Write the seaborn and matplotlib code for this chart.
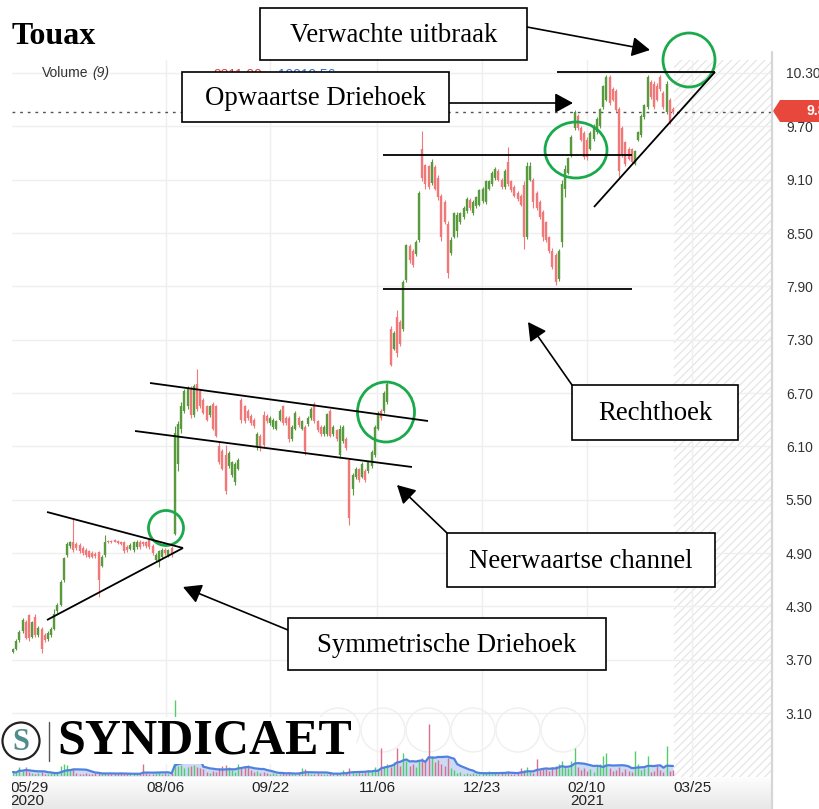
import numpy as np
import pandas as pd
import matplotlib
matplotlib.use("Agg")
import matplotlib.pyplot as plt
import seaborn as sns
from matplotlib.patches import Rectangle, Ellipse, Polygon, FancyArrowPatch
from matplotlib.colors import LinearSegmentedColormap

# ---------------- data ----------------
opens = [3.79, 3.82, 3.92, 4.02, 4.13, 4.20, 3.96, 4.18, 3.98, 4.05,
         3.98, 3.93, 3.98, 4.05, 4.25, 4.32, 4.60, 4.88, 4.98, 5.02,
         5.00, 4.99, 4.96, 4.94, 4.92, 4.90, 4.89, 4.91, 4.76, 4.88,
         5.04, 5.04, 5.05, 5.04, 5.03, 5.03, 4.97, 4.95, 4.93, 4.97,
         5.03, 5.03, 5.02, 5.05, 4.98, 4.82, 4.80, 4.86, 4.94, 4.88,
         4.96, 5.12, 5.90, 6.30, 6.50, 6.55, 6.75, 6.45, 6.80, 6.72,
         6.62, 6.55, 6.45, 6.58, 6.55, 6.10, 6.05, 6.00, 5.88, 5.78,
         5.70, 5.85, 6.62, 6.55, 6.50, 6.44, 6.40, 6.10, 6.22, 6.45,
         6.44, 6.36, 6.32, 6.30, 6.40, 6.55, 6.42, 6.42, 6.18, 6.30,
         6.42, 6.30, 6.32, 6.35, 6.42, 6.58, 6.38, 6.32, 6.24, 6.24,
         6.50, 6.24, 6.28, 6.00, 6.16, 6.18, 5.95, 5.62, 5.75, 5.84,
         5.76, 5.82, 5.82, 5.88, 6.00, 6.30, 6.50, 6.50, 6.60, 7.42,
         7.20, 7.55, 7.50, 7.42, 7.97, 8.35, 8.30, 8.26, 8.42, 9.45,
         9.26, 9.25, 9.06, 9.24, 9.12, 8.92, 8.85, 8.60, 8.27, 8.46,
         8.52, 8.62, 8.68, 8.75, 8.87, 8.72, 8.80, 8.82, 8.86, 8.85,
         9.00, 9.05, 9.12, 9.20, 9.10, 9.02, 9.30, 9.08, 9.02, 8.95,
         8.92, 9.04, 8.45, 9.10, 9.10, 8.95, 8.85, 8.74, 8.62, 8.45,
         8.30, 8.25, 7.98, 8.40, 9.00, 9.18, 9.38, 9.68, 9.82, 9.68,
         9.62, 9.55, 9.45, 9.56, 9.64, 9.70, 9.92, 10.00, 10.25, 10.12,
         10.10, 9.90, 9.68, 9.52, 9.45, 9.44, 9.28, 9.55, 9.60, 9.80,
         9.92, 10.20, 10.18, 10.15, 10.25, 10.08, 9.86, 10.00, 9.90]

highs = [3.83, 3.93, 4.03, 4.17, 4.15, 4.22, 4.14, 4.22, 4.08, 4.07,
         4.00, 4.02, 4.07, 4.27, 4.34, 4.60, 4.86, 5.02, 5.04, 5.30,
         5.02, 5.01, 4.98, 4.96, 4.94, 4.92, 4.91, 4.92, 4.88, 5.10,
         5.05, 5.05, 5.06, 5.05, 5.04, 5.04, 4.99, 5.01, 5.04, 5.05,
         5.05, 5.04, 5.04, 5.07, 5.00, 4.90, 4.94, 4.96, 4.96, 4.95,
         4.98, 6.33, 6.38, 6.60, 6.74, 6.78, 6.78, 6.80, 6.97, 6.74,
         6.64, 6.57, 6.57, 6.60, 6.57, 6.15, 6.07, 6.12, 6.05, 5.94,
         5.92, 5.97, 6.64, 6.57, 6.52, 6.46, 6.42, 6.26, 6.24, 6.50,
         6.46, 6.44, 6.42, 6.40, 6.52, 6.57, 6.44, 6.44, 6.34, 6.50,
         6.44, 6.40, 6.34, 6.44, 6.54, 6.60, 6.40, 6.34, 6.34, 6.48,
         6.52, 6.34, 6.30, 6.34, 6.34, 6.20, 5.97, 5.80, 5.87, 5.86,
         5.92, 5.84, 5.94, 6.06, 6.34, 6.50, 6.52, 6.72, 6.82, 7.45,
         7.40, 7.63, 7.52, 7.97, 8.38, 8.38, 8.32, 8.42, 8.97, 9.65,
         9.28, 9.27, 9.33, 9.26, 9.15, 8.94, 8.87, 8.63, 8.45, 8.74,
         8.74, 8.74, 8.80, 8.90, 8.89, 8.87, 8.92, 9.00, 9.02, 9.10,
         9.10, 9.20, 9.24, 9.22, 9.12, 9.22, 9.47, 9.10, 9.04, 8.97,
         8.94, 9.08, 9.30, 9.30, 9.12, 8.97, 8.87, 8.76, 8.64, 8.47,
         8.33, 8.28, 8.32, 9.10, 9.26, 9.36, 9.60, 9.88, 9.84, 9.70,
         9.65, 9.58, 9.65, 9.73, 9.80, 9.91, 10.17, 10.28, 10.28, 10.14,
         10.12, 9.92, 9.70, 9.54, 9.47, 9.46, 9.43, 9.65, 9.84, 9.95,
         10.28, 10.22, 10.21, 10.19, 10.28, 10.10, 10.21, 10.02, 9.92]

lows = [3.78, 3.81, 3.90, 4.00, 3.93, 3.91, 3.94, 3.96, 3.96, 3.78,
        3.90, 3.91, 3.96, 4.03, 4.23, 4.30, 4.58, 4.86, 4.96, 4.91,
        4.94, 4.90, 4.88, 4.86, 4.84, 4.84, 4.85, 4.41, 4.74, 4.86,
        5.01, 5.01, 5.02, 5.00, 4.99, 4.90, 4.91, 4.93, 4.91, 4.95,
        4.95, 4.98, 4.96, 4.95, 4.88, 4.80, 4.74, 4.84, 4.88, 4.86,
        4.86, 5.10, 5.82, 6.25, 6.48, 6.52, 6.42, 6.43, 6.50, 6.53,
        6.46, 6.38, 6.43, 6.28, 6.20, 5.90, 5.83, 5.56, 5.86, 5.76,
        5.67, 5.83, 6.36, 6.36, 6.40, 6.34, 6.31, 6.06, 6.05, 6.08,
        6.36, 6.34, 6.30, 6.28, 6.38, 6.34, 6.34, 6.15, 6.16, 6.28,
        6.32, 6.28, 6.00, 6.33, 6.40, 6.36, 6.26, 6.22, 6.22, 6.22,
        6.20, 6.22, 6.16, 5.97, 6.14, 6.06, 5.22, 5.55, 5.73, 5.70,
        5.74, 5.70, 5.80, 5.86, 5.98, 6.28, 6.40, 6.48, 6.58, 7.00,
        7.18, 7.11, 7.23, 7.40, 7.95, 8.16, 8.12, 8.24, 8.40, 9.08,
        9.00, 9.00, 9.04, 8.98, 8.87, 8.41, 8.60, 7.99, 8.25, 8.44,
        8.45, 8.60, 8.66, 8.73, 8.76, 8.70, 8.78, 8.80, 8.84, 8.83,
        8.98, 9.03, 9.10, 9.08, 9.00, 9.00, 9.03, 8.96, 8.90, 8.86,
        8.80, 8.32, 8.43, 9.08, 8.78, 8.76, 8.66, 8.41, 8.40, 8.28,
        8.10, 7.91, 7.96, 8.34, 8.90, 9.16, 9.36, 9.66, 9.66, 9.53,
        9.33, 9.32, 9.43, 9.54, 9.61, 9.68, 9.90, 9.98, 9.94, 9.98,
        9.86, 9.13, 9.36, 9.25, 9.32, 9.28, 9.26, 9.53, 9.58, 9.78,
        9.90, 10.01, 9.90, 9.98, 10.10, 9.90, 9.84, 9.73, 9.84]

closes = [3.82, 3.91, 4.01, 4.15, 3.95, 3.95, 4.12, 3.98, 4.06, 3.82,
          3.92, 4.00, 4.05, 4.22, 4.32, 4.58, 4.84, 5.00, 5.02, 4.93,
          4.96, 4.92, 4.90, 4.88, 4.86, 4.86, 4.87, 4.60, 4.86, 5.02,
          5.02, 5.02, 5.03, 5.01, 5.00, 4.92, 4.93, 4.99, 5.02, 5.03,
          4.97, 5.00, 4.98, 4.97, 4.90, 4.88, 4.92, 4.94, 4.90, 4.93,
          4.88, 6.25, 6.35, 6.55, 6.72, 6.75, 6.45, 6.78, 6.52, 6.55,
          6.48, 6.40, 6.55, 6.30, 6.22, 5.92, 5.85, 5.60, 6.02, 5.92,
          5.90, 5.95, 6.40, 6.38, 6.42, 6.36, 6.33, 6.24, 6.10, 6.12,
          6.38, 6.42, 6.40, 6.38, 6.50, 6.36, 6.36, 6.18, 6.32, 6.48,
          6.34, 6.38, 6.05, 6.42, 6.52, 6.38, 6.28, 6.24, 6.32, 6.46,
          6.22, 6.32, 6.18, 6.30, 6.32, 6.08, 5.30, 5.78, 5.85, 5.72,
          5.90, 5.72, 5.92, 6.04, 6.32, 6.48, 6.42, 6.70, 6.80, 7.02,
          7.38, 7.15, 7.25, 7.95, 8.36, 8.20, 8.14, 8.40, 8.95, 9.12,
          9.05, 9.02, 9.30, 9.00, 8.90, 8.45, 8.62, 8.05, 8.42, 8.72,
          8.70, 8.72, 8.78, 8.88, 8.78, 8.85, 8.90, 8.98, 9.00, 9.08,
          9.08, 9.18, 9.22, 9.10, 9.02, 9.20, 9.05, 8.98, 8.92, 8.88,
          8.82, 8.45, 9.25, 9.25, 8.85, 8.78, 8.68, 8.45, 8.42, 8.30,
          8.12, 7.95, 8.30, 9.05, 9.22, 9.34, 9.58, 9.86, 9.68, 9.55,
          9.35, 9.36, 9.62, 9.70, 9.78, 9.90, 10.15, 10.25, 9.96, 10.00,
          9.88, 9.20, 9.38, 9.28, 9.33, 9.30, 9.42, 9.64, 9.82, 9.94,
          10.25, 10.03, 9.92, 10.00, 10.12, 9.92, 10.18, 9.75, 9.86]

volumes = [4, 3, 9, 5, 9, 4, 3, 2, 3, 4,
           2, 2, 3, 4, 3, 10, 12, 11, 6, 8,
           3, 2, 2, 3, 2, 2, 3, 4, 2, 3,
           2, 2, 2, 2, 3, 2, 2, 2, 3, 2,
           2, 12, 3, 2, 2, 3, 4, 2, 3, 2,
           3, 76, 10, 11, 8, 9, 10, 11, 9, 8,
           7, 4, 3, 5, 4, 8, 10, 11, 9, 6,
           4, 12, 8, 10, 11, 6, 4, 5, 3, 4,
           3, 2, 3, 2, 2, 3, 2, 4, 2, 2,
           3, 8, 7, 3, 2, 2, 3, 2, 2, 2,
           3, 2, 3, 2, 6, 3, 8, 5, 3, 4,
           3, 4, 6, 5, 9, 7, 28, 10, 12, 9,
           14, 28, 10, 23, 15, 10, 12, 9, 16, 18,
           14, 52, 20, 14, 16, 12, 10, 18, 8, 6,
           3, 4, 2, 3, 2, 3, 2, 2, 4, 3,
           5, 2, 3, 2, 4, 3, 5, 2, 2, 3,
           8, 6, 9, 4, 3, 17, 6, 8, 7, 5,
           9, 10, 12, 15, 10, 8, 15, 28, 9, 6,
           8, 5, 7, 4, 10, 12, 20, 23, 8, 5,
           6, 9, 4, 7, 5, 4, 25, 12, 6, 8,
           20, 4, 5, 10, 6, 4, 30, 5, 6]

price_ticks = [10.30, 9.70, 9.10, 8.50, 7.90, 7.30, 6.70, 6.10, 5.50, 4.90, 4.30, 3.70, 3.10]
date_labels = ["08/06", "09/22", "11/06", "12/23", "02/10\n2021", "03/25"]
first_date_label = "05/29\n2020"
date_pos = [48.2, 81.0, 114.7, 147.8, 180.9, 214.0]

# ---------------- style ----------------
sns.set_style("white")
plt.rcParams["font.family"] = ["Liberation Sans", "DejaVu Sans"]
plt.rcParams["hatch.color"] = "#e0e0e0"
plt.rcParams["hatch.linewidth"] = 0.8

W, H = 820, 809
fig = plt.figure(figsize=(W / 100, H / 100), dpi=100)
fig.patch.set_facecolor("white")


def fax(x0, y0, x1, y1):
    return [x0 / W, 1 - y1 / H, (x1 - x0) / W, (y1 - y0) / H]


XLIM = (-1 / 3.173, 759 / 3.173)
GREEN, RED = "#5a9a3e", "#f07878"

# background overlay (faint chart buttons)
bg = fig.add_axes([0, 0, 1, 1], zorder=-5)
bg.set_xlim(0, W); bg.set_ylim(H, 0); bg.axis("off")
for cx in [338, 383, 428, 473, 518, 563]:
    bg.add_patch(Ellipse((cx, 730), 44, 44, fill=False, ec="#f0f0f0", lw=1.1))

# ---------------- price axes ----------------
ax = fig.add_axes(fax(12, 60, 772, 777))
ax.set_facecolor("none")
ax.set_xlim(*XLIM)
ax.set_ylim(10.30 - 704 / 88.9, 10.30 + 13 / 88.9)
ax.set_yticks(price_ticks)
ax.set_yticklabels([f"{v:.2f}" for v in price_ticks])
ax.yaxis.tick_right()
ax.tick_params(axis="y", length=0, pad=10, labelsize=10, labelcolor="#333333")
ax.set_xticks(date_pos)
ax.tick_params(axis="x", length=0, labelbottom=False)
ax.grid(True, color="#efefef", lw=1)
for s in ax.spines.values():
    s.set_visible(False)
ax.axvspan(208.4, XLIM[1], facecolor="none", hatch="////", edgecolor="#e2e2e2", lw=0, zorder=0)

idx = np.arange(len(opens))
o = np.array(opens); c = np.array(closes); h = np.array(highs); l = np.array(lows)
cols = [GREEN if cc >= oo else RED for oo, cc in zip(o, c)]
ax.vlines(idx, l, h, colors=cols, lw=0.8, zorder=3)
ax.vlines(idx, np.minimum(o, c), np.maximum(o, c), colors=cols, lw=1.7, zorder=3)
ax.axhline(c[-1], color="#555555", lw=1, ls=(0, (2, 3.5)), zorder=2)

# ---------------- volume axes ----------------
axv = fig.add_axes(fax(12, 696, 772, 776))
axv.set_facecolor("none")
vol = pd.Series(volumes, dtype=float)
ma = vol.rolling(9, min_periods=1).mean()
axv.fill_between(idx, 0, ma, color="#c3d4f4", alpha=0.85, lw=0, zorder=1)
vcols = ["#55cc6a" if cc >= oo else "#d9708a" for oo, cc in zip(o, c)]
axv.vlines(idx, 0, vol, colors=vcols, lw=1.0, zorder=2)
sns.lineplot(x=idx, y=ma.values, ax=axv, color="#4f82e0", lw=1.6, zorder=3)
axv.set_xlim(*XLIM); axv.set_ylim(0, 80); axv.axis("off")

# ---------------- date band ----------------
axd = fig.add_axes(fax(12, 777, 772, 809))
axd.set_xlim(*XLIM); axd.set_ylim(809, 777); axd.axis("off")
grad = LinearSegmentedColormap.from_list("g", ["#fdfdfd", "#e8e8e8"])
axd.imshow(np.linspace(0, 1, 32)[:, None], cmap=grad, aspect="auto",
           extent=[XLIM[0], XLIM[1], 809, 777], zorder=0)
for pos, lab in zip(date_pos, date_labels):
    axd.text(pos, 781, lab, ha="center", va="top", fontsize=11, color="#222222",
             linespacing=0.95)
axd.text(-0.95, 781, first_date_label, ha="left", va="top", fontsize=11, color="#222222",
         linespacing=0.95, clip_on=True)

# ---------------- overlay: header, logo, annotations ----------------
ov = fig.add_axes([0, 0, 1, 1], zorder=10)
ov.set_xlim(0, W); ov.set_ylim(H, 0); ov.axis("off")
ov.patch.set_alpha(0)

ov.plot([772, 772], [52, 809], color="#d6d6d6", lw=1.6)

ov.text(42, 73, "Volume", fontsize=10, color="#333333", va="center", ha="left")
ov.text(92, 73, "(9)", fontsize=10, color="#333333", va="center", ha="left", style="italic")
ov.text(213, 75, "9311.00", fontsize=10, color="#e04040", va="center", ha="left")
ov.text(278, 75, "19919.56", fontsize=10, color="#3070e0", va="center", ha="left")

# last price tag (cut by the right edge, as in the reference)
ov.add_patch(Polygon([(773, 111), (780, 100), (822, 100), (822, 122), (780, 122)],
                     closed=True, fc="#e8483c", ec="none"))
ov.text(807, 111, f"{c[-1]:.2f}", fontsize=10, color="white", va="center", ha="left",
        fontweight="bold")

ov.text(12, 36, "Touax", fontsize=23, fontweight="bold", family="Liberation Serif",
        va="center", ha="left", color="black")

# logo
ov.add_patch(Rectangle((0, 717), 356, 47, fc="white", ec="none"))
ov.add_patch(Ellipse((21, 741), 37, 37, fill=False, ec="#222222", lw=1.6))
ov.text(21, 742, "S", fontsize=22, fontweight="bold", family="Liberation Serif",
        color="#4f8c8c", ha="center", va="center")
ov.plot([49, 49], [722, 761], color="#555555", lw=1)
ov.text(57, 742, "SYNDICAET", fontsize=36, fontweight="bold", family="Liberation Serif",
        color="black", ha="left", va="center")

# pattern lines
LK = dict(color="black", lw=1.3, solid_capstyle="butt")
ov.plot([47, 183], [512, 548], **LK)
ov.plot([47, 183], [620, 548], **LK)
ov.plot([150, 428], [383, 421], **LK)
ov.plot([135, 412], [431, 467], **LK)
ov.plot([383, 632], [155, 155], **LK)
ov.plot([383, 632], [289, 289], **LK)
ov.plot([557, 715], [72, 72], **LK)
ov.plot([594, 715], [207, 72], **LK)

# green circles
GC = "#1aa94b"
for (cx, cy, w, hh) in [(166, 528, 35, 35), (386, 412, 57, 60), (576, 150, 62, 56), (689, 60, 52, 54)]:
    ov.add_patch(Ellipse((cx, cy), w, hh, fill=False, ec=GC, lw=2.0))

# boxes with text
boxes = [((260, 8, 527, 60), "Verwachte uitbraak"),
         ((182, 72, 449, 122), "Opwaartse Driehoek"),
         ((572, 385, 738, 440), "Rechthoek"),
         ((447, 533, 715, 587), "Neerwaartse channel"),
         ((288, 618, 606, 670), "Symmetrische Driehoek")]
for (x0, y0, x1, y1), t in boxes:
    ov.add_patch(Rectangle((x0, y0), x1 - x0, y1 - y0, fc="white", ec="black", lw=1.2, zorder=5))
    ov.text((x0 + x1) / 2, (y0 + y1) / 2 + 1, t, fontsize=19.3, family="Liberation Serif",
            ha="center", va="center", color="black", zorder=6)

arrows = [((527, 27), (650, 50)),
          ((449, 103), (573, 103)),
          ((572, 385), (528, 322)),
          ((447, 533), (397, 485)),
          ((288, 630), (183, 587))]
for a, b in arrows:
    ov.add_patch(FancyArrowPatch(a, b, arrowstyle="-|>,head_length=0.55,head_width=0.3",
                                 mutation_scale=20, lw=1.2, color="black",
                                 shrinkA=0, shrinkB=0, zorder=4))

fig.savefig("out.png", dpi=100)
